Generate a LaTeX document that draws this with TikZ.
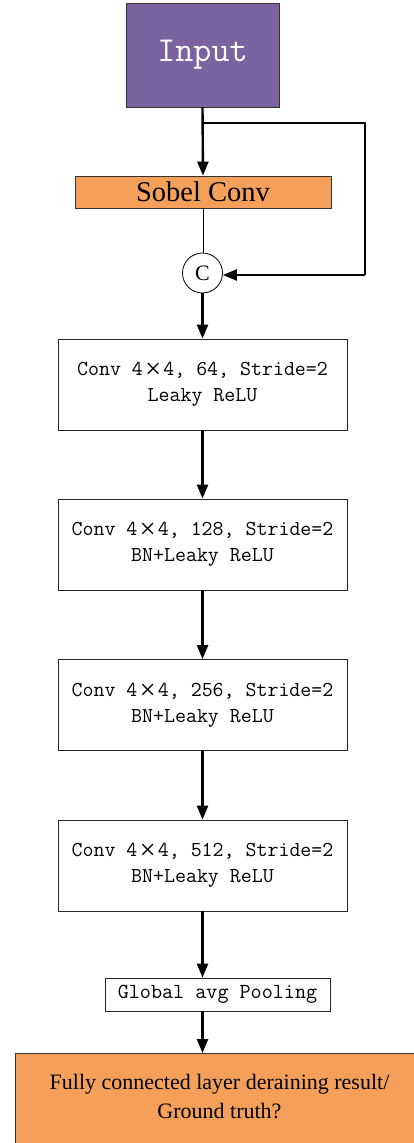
\documentclass[tikz,border=0pt]{standalone}
\usepackage{fontspec}
\setmainfont{Liberation Serif}
\usetikzlibrary{arrows.meta,positioning,calc}
\definecolor{inpurple}{RGB}{123,98,160}
\definecolor{sobelorange}{RGB}{244,160,90}
% thin, wide multiplication sign between the kernel sizes
\newcommand{\xx}{\kern.1em{\rmfamily\raisebox{-.14em}{\scalebox{1.35}{×}}}\kern.1em}
\begin{document}
\begin{tikzpicture}[x=1pt,y=-1pt,
  flow/.style={line width=2.4pt,-{Triangle[length=14pt,width=11pt]}},
  convbox/.style={draw=black!85,line width=0.8pt,minimum width=289pt,minimum height=91pt,
    align=center,font=\fontsize{21.3}{26}\ttfamily,inner sep=0pt},
  fill box/.style={draw=black!80,line width=0.8pt,inner sep=0pt}]
\useasboundingbox (0,0) rectangle (413,1143);

% input and edge-filter stage
\node[fill box,fill=inpurple,minimum width=153pt,minimum height=104pt,
  text=white,font=\fontsize{35}{35}\ttfamily] (input) at (202.5,55) {Input};
\node[fill box,fill=sobelorange,minimum width=256pt,minimum height=32pt,
  font=\fontsize{28.5}{28.5}\selectfont] (sobel) at (203,192) {Sobel Conv};
\node[draw,circle,line width=0.8pt,minimum size=40pt,inner sep=0pt,
  font=\fontsize{22}{22}\selectfont] (cat) at (202.5,273) {C};

% convolution stack
\node[convbox] (c1) at (202.5,384.5) {Conv 4\xx 4, 64, Stride=2\\Leaky ReLU};
\node[convbox] (c2) at (202.5,544.5) {Conv 4\xx 4, 128, Stride=2\\BN+Leaky ReLU};
\node[convbox] (c3) at (202.5,705) {Conv 4\xx 4, 256, Stride=2\\BN+Leaky ReLU};
\node[convbox] (c4) at (202.5,865.5) {Conv 4\xx 4, 512, Stride=2\\BN+Leaky ReLU};

% pooling and classifier head
\node[draw=black!85,line width=0.8pt,minimum width=225pt,minimum height=33pt,inner sep=0pt,
  font=\fontsize{21.5}{21.5}\ttfamily] (pool) at (217.5,994.5) {Global avg Pooling};
\node[fill box,fill=sobelorange,minimum width=409pt,minimum height=110pt,anchor=north west]
  (fc) at (15,1053) {};
\node[align=center,font=\fontsize{22}{29}\selectfont] (fctext) at (219.5,1097)
  {Fully connected layer deraining result/\\Ground truth?};

% connectors
\coordinate (split) at (input.south |- 0,123);
\coordinate (rtop) at (365,123);
\coordinate (rbot) at (365,275);
\draw[flow] (input.south) -- (sobel.north);
\draw[line width=2.4pt] (split) -- (rtop) -- (rbot);
\draw[flow] (rbot) -- (cat.east |- rbot);
\draw[line width=0.8pt] (sobel.south) -- (sobel.south |- cat.north);
\draw[flow] (cat.south) -- (c1.north);
\draw[flow] (c1.south) -- (c2.north);
\draw[flow] (c2.south) -- (c3.north);
\draw[flow] (c3.south) -- (c4.north);
\draw[flow] (c4.south) -- (c4.south |- pool.north);
\draw[flow] (c4.south |- pool.south) -- (c4.south |- fc.north);
\end{tikzpicture}
\end{document}
